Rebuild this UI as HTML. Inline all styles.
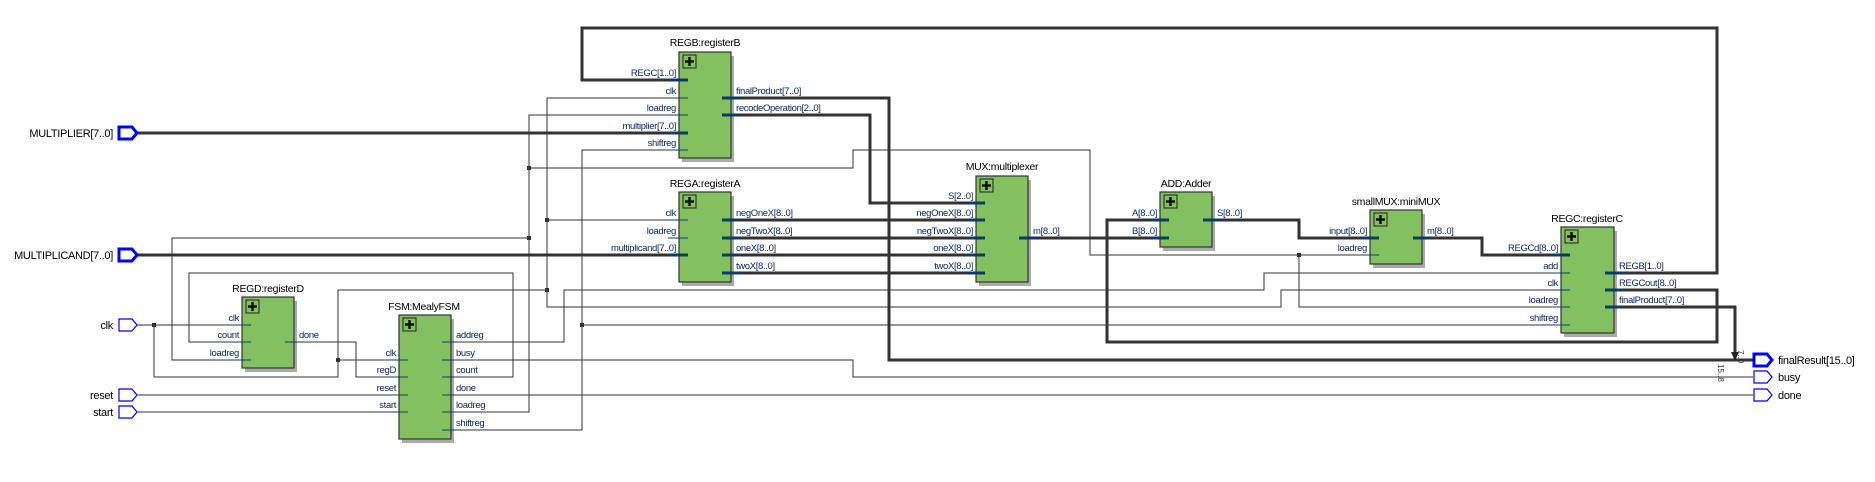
<!DOCTYPE html>
<html><head><meta charset="utf-8"><style>
html,body{margin:0;padding:0;background:#fff;}
svg{display:block;}
text{font-family:"Liberation Sans",sans-serif;}
.pl{font-size:9.5px;fill:#0a2a66;letter-spacing:-0.35px;}
.tt{font-size:10.5px;fill:#000;letter-spacing:-0.3px;}
.pn{font-size:11px;fill:#000;letter-spacing:-0.3px;}
.w{stroke:#333;stroke-width:1;fill:none;}
.b{stroke:#333;stroke-width:3;fill:none;}
.st{stroke:#0d3b66;stroke-width:1;}
.sb{stroke:#0d3b66;stroke-width:3;}
.box{fill:#83c060;stroke:#333;stroke-width:1.2;}
.sh{fill:#aaa;}
.pin{fill:#fff;stroke:#0000ff;stroke-width:1.2;}
.pinb{fill:#fff;stroke:#0000ff;stroke-width:3;}
</style></head><body>
<svg width="1875" height="482" viewBox="0 0 1875 482" xmlns="http://www.w3.org/2000/svg">
<!-- wires -->
<g>
<polyline class="b" points="679,80 582,80 582,28 1717,28 1717,273 1614,273"/>
<polyline class="b" points="730,98 889,98 889,360 1753,360"/>
<polyline class="b" points="730,115 870,115 870,203 976,203"/>
<line class="b" x1="730" y1="220" x2="976" y2="220"/>
<line class="b" x1="730" y1="238" x2="976" y2="238"/>
<line class="b" x1="730" y1="255" x2="976" y2="255"/>
<line class="b" x1="730" y1="273" x2="976" y2="273"/>
<line class="b" x1="137" y1="133" x2="679" y2="133"/>
<line class="b" x1="137" y1="255" x2="679" y2="255"/>
<line class="b" x1="1028" y1="238" x2="1160" y2="238"/>
<polyline class="b" points="1614,290 1717,290 1717,342 1107,342 1107,220 1160,220"/>
<polyline class="b" points="1212,220 1299,220 1299,238 1370,238"/>
<polyline class="b" points="1422,238 1482,238 1482,255 1561,255"/>
<polyline class="b" points="1614,307 1735,307 1735,357"/>
<!-- thin -->
<polyline class="w" points="137,325 242,325"/>
<polyline class="w" points="154,325 154,377 338,377 338,290 547,290"/>
<polyline class="w" points="338,360 399,360"/>
<polyline class="w" points="679,98 547,98 547,307 1281,307 1281,290 1561,290"/>
<line class="w" x1="547" y1="220" x2="679" y2="220"/>
<polyline class="w" points="451,342 564,342 564,290 1264,290 1264,273 1561,273"/>
<polyline class="w" points="451,412 529,412 529,115 679,115"/>
<polyline class="w" points="529,168 853,168 853,150 1090,150 1090,255 1370,255"/>
<polyline class="w" points="1299,255 1299,307 1561,307"/>
<polyline class="w" points="529,238 172,238 172,360 242,360"/>
<polyline class="w" points="451,430 582,430 582,150 679,150"/>
<line class="w" x1="582" y1="325" x2="1561" y2="325"/>
<polyline class="w" points="451,377 513,377 513,273 189,273 189,342 242,342"/>
<polyline class="w" points="294,342 356,342 356,377 399,377"/>
<polyline class="w" points="451,360 853,360 853,377 1753,377"/>
<line class="w" x1="451" y1="395" x2="1753" y2="395"/>
<line class="w" x1="137" y1="395" x2="399" y2="395"/>
<line class="w" x1="137" y1="412" x2="399" y2="412"/>
<!-- dots -->
<g fill="#333">
<rect x="152" y="323" width="4" height="4"/>
<rect x="336" y="358" width="4" height="4"/>
<rect x="545" y="288" width="4" height="4"/>
<rect x="545" y="218" width="4" height="4"/>
<rect x="527" y="166" width="4" height="4"/>
<rect x="527" y="236" width="4" height="4"/>
<rect x="580" y="323" width="4" height="4"/>
<rect x="1297" y="253" width="4" height="4"/>
</g>
<polygon points="1731,352 1739,352 1735,361" fill="#222"/>
<text x="1738" y="350" font-size="8" fill="#333" transform="rotate(90 1738 350)">7..0</text>
<text x="1718" y="364" font-size="8" fill="#333" transform="rotate(90 1718 364)">15..8</text>
</g>

<!-- blocks -->
<g>
<!-- REGB -->
<text class="tt" x="705" y="46" text-anchor="middle">REGB:registerB</text>
<rect class="sh" x="682" y="56" width="52" height="106"/>
<rect class="box" x="679" y="52" width="52" height="106"/>
<rect x="683" y="55" width="13" height="13" fill="#83c060" stroke="#222"/><path d="M689.5,57v9M685,61.5h9" stroke="#111" stroke-width="2.5"/>
<line class="sb" x1="668" y1="80" x2="688" y2="80"/><line class="st" x1="668" y1="98" x2="688" y2="98"/><line class="st" x1="668" y1="115" x2="688" y2="115"/><line class="sb" x1="668" y1="133" x2="688" y2="133"/><line class="st" x1="668" y1="150" x2="688" y2="150"/>
<line class="sb" x1="722" y1="98" x2="740" y2="98"/><line class="sb" x1="722" y1="115" x2="740" y2="115"/>
<g class="pl" text-anchor="end"><text x="676" y="76">REGC[1..0]</text><text x="676" y="94">clk</text><text x="676" y="111">loadreg</text><text x="676" y="129">multiplier[7..0]</text><text x="676" y="146">shiftreg</text></g>
<g class="pl"><text x="736" y="94">finalProduct[7..0]</text><text x="736" y="111">recodeOperation[2..0]</text></g>

<!-- REGA -->
<text class="tt" x="705" y="187" text-anchor="middle">REGA:registerA</text>
<rect class="sh" x="682" y="196" width="52" height="90"/>
<rect class="box" x="679" y="192" width="52" height="90"/>
<rect x="683" y="195" width="13" height="13" fill="#83c060" stroke="#222"/><path d="M689.5,197v9M685,201.5h9" stroke="#111" stroke-width="2.5"/>
<line class="st" x1="668" y1="220" x2="688" y2="220"/><line class="st" x1="668" y1="238" x2="688" y2="238"/><line class="sb" x1="668" y1="255" x2="688" y2="255"/>
<line class="sb" x1="722" y1="220" x2="740" y2="220"/><line class="sb" x1="722" y1="238" x2="740" y2="238"/><line class="sb" x1="722" y1="255" x2="740" y2="255"/><line class="sb" x1="722" y1="273" x2="740" y2="273"/>
<g class="pl" text-anchor="end"><text x="676" y="216">clk</text><text x="676" y="234">loadreg</text><text x="676" y="251">multiplicand[7..0]</text></g>
<g class="pl"><text x="736" y="216">negOneX[8..0]</text><text x="736" y="234">negTwoX[8..0]</text><text x="736" y="251">oneX[8..0]</text><text x="736" y="269">twoX[8..0]</text></g>

<!-- REGD -->
<text class="tt" x="268" y="292" text-anchor="middle">REGD:registerD</text>
<rect class="sh" x="245" y="301" width="52" height="71"/>
<rect class="box" x="242" y="297" width="52" height="71"/>
<rect x="246" y="300" width="13" height="13" fill="#83c060" stroke="#222"/><path d="M252.5,302v9M248,306.5h9" stroke="#111" stroke-width="2.5"/>
<line class="st" x1="232" y1="325" x2="251" y2="325"/><line class="st" x1="232" y1="342" x2="251" y2="342"/><line class="st" x1="232" y1="360" x2="251" y2="360"/>
<line class="st" x1="285" y1="342" x2="303" y2="342"/>
<g class="pl" text-anchor="end"><text x="239" y="321">clk</text><text x="239" y="338">count</text><text x="239" y="356">loadreg</text></g>
<g class="pl"><text x="299" y="338">done</text></g>

<!-- FSM -->
<text class="tt" x="424" y="310" text-anchor="middle">FSM:MealyFSM</text>
<rect class="sh" x="402" y="319" width="52" height="124"/>
<rect class="box" x="399" y="315" width="52" height="124"/>
<rect x="403" y="318" width="13" height="13" fill="#83c060" stroke="#222"/><path d="M409.5,320v9M405,324.5h9" stroke="#111" stroke-width="2.5"/>
<line class="st" x1="389" y1="360" x2="408" y2="360"/><line class="st" x1="389" y1="377" x2="408" y2="377"/><line class="st" x1="389" y1="395" x2="408" y2="395"/><line class="st" x1="389" y1="412" x2="408" y2="412"/>
<line class="st" x1="442" y1="342" x2="460" y2="342"/><line class="st" x1="442" y1="360" x2="460" y2="360"/><line class="st" x1="442" y1="377" x2="460" y2="377"/><line class="st" x1="442" y1="395" x2="460" y2="395"/><line class="st" x1="442" y1="412" x2="460" y2="412"/><line class="st" x1="442" y1="430" x2="460" y2="430"/>
<g class="pl" text-anchor="end"><text x="396" y="356">clk</text><text x="396" y="373">regD</text><text x="396" y="391">reset</text><text x="396" y="408">start</text></g>
<g class="pl"><text x="456" y="338">addreg</text><text x="456" y="356">busy</text><text x="456" y="373">count</text><text x="456" y="391">done</text><text x="456" y="408">loadreg</text><text x="456" y="426">shiftreg</text></g>

<!-- MUX -->
<text class="tt" x="1002" y="170" text-anchor="middle">MUX:multiplexer</text>
<rect class="sh" x="979" y="180" width="52" height="106"/>
<rect class="box" x="976" y="176" width="52" height="106"/>
<rect x="980" y="179" width="13" height="13" fill="#83c060" stroke="#222"/><path d="M986.5,181v9M982,185.5h9" stroke="#111" stroke-width="2.5"/>
<line class="sb" x1="966" y1="203" x2="985" y2="203"/><line class="sb" x1="966" y1="220" x2="985" y2="220"/><line class="sb" x1="966" y1="238" x2="985" y2="238"/><line class="sb" x1="966" y1="255" x2="985" y2="255"/><line class="sb" x1="966" y1="273" x2="985" y2="273"/>
<line class="sb" x1="1019" y1="238" x2="1037" y2="238"/>
<g class="pl" text-anchor="end"><text x="973" y="199">S[2..0]</text><text x="973" y="216">negOneX[8..0]</text><text x="973" y="234">negTwoX[8..0]</text><text x="973" y="251">oneX[8..0]</text><text x="973" y="269">twoX[8..0]</text></g>
<g class="pl"><text x="1033" y="234">m[8..0]</text></g>

<!-- ADD -->
<text class="tt" x="1186" y="187" text-anchor="middle">ADD:Adder</text>
<rect class="sh" x="1163" y="196" width="52" height="55"/>
<rect class="box" x="1160" y="192" width="52" height="55"/>
<rect x="1164" y="195" width="13" height="13" fill="#83c060" stroke="#222"/><path d="M1170.5,197v9M1166,201.5h9" stroke="#111" stroke-width="2.5"/>
<line class="sb" x1="1150" y1="220" x2="1169" y2="220"/><line class="sb" x1="1150" y1="238" x2="1169" y2="238"/>
<line class="sb" x1="1203" y1="220" x2="1221" y2="220"/>
<g class="pl" text-anchor="end"><text x="1157" y="216">A[8..0]</text><text x="1157" y="234">B[8..0]</text></g>
<g class="pl"><text x="1217" y="216">S[8..0]</text></g>

<!-- miniMUX -->
<text class="tt" x="1396" y="205" text-anchor="middle">smallMUX:miniMUX</text>
<rect class="sh" x="1373" y="214" width="52" height="54"/>
<rect class="box" x="1370" y="210" width="52" height="54"/>
<rect x="1374" y="213" width="13" height="13" fill="#83c060" stroke="#222"/><path d="M1380.5,215v9M1376,219.5h9" stroke="#111" stroke-width="2.5"/>
<line class="sb" x1="1360" y1="238" x2="1379" y2="238"/><line class="st" x1="1360" y1="255" x2="1379" y2="255"/>
<line class="sb" x1="1413" y1="238" x2="1431" y2="238"/>
<g class="pl" text-anchor="end"><text x="1367" y="234">input[8..0]</text><text x="1367" y="251">loadreg</text></g>
<g class="pl"><text x="1427" y="234">m[8..0]</text></g>

<!-- REGC -->
<text class="tt" x="1587" y="222" text-anchor="middle">REGC:registerC</text>
<rect class="sh" x="1564" y="231" width="53" height="106"/>
<rect class="box" x="1561" y="227" width="53" height="106"/>
<rect x="1565" y="230" width="13" height="13" fill="#83c060" stroke="#222"/><path d="M1571.5,232v9M1567,236.5h9" stroke="#111" stroke-width="2.5"/>
<line class="sb" x1="1551" y1="255" x2="1570" y2="255"/><line class="st" x1="1551" y1="273" x2="1570" y2="273"/><line class="st" x1="1551" y1="290" x2="1570" y2="290"/><line class="st" x1="1551" y1="307" x2="1570" y2="307"/><line class="st" x1="1551" y1="325" x2="1570" y2="325"/>
<line class="sb" x1="1605" y1="273" x2="1623" y2="273"/><line class="sb" x1="1605" y1="290" x2="1623" y2="290"/><line class="sb" x1="1605" y1="307" x2="1623" y2="307"/>
<g class="pl" text-anchor="end"><text x="1558" y="251">REGCd[8..0]</text><text x="1558" y="269">add</text><text x="1558" y="286">clk</text><text x="1558" y="303">loadreg</text><text x="1558" y="321">shiftreg</text></g>
<g class="pl"><text x="1619" y="269">REGB[1..0]</text><text x="1619" y="286">REGCout[8..0]</text><text x="1619" y="303">finalProduct[7..0]</text></g>
</g>

<!-- pins -->
<g>
<polygon class="pinb" points="119,127 132,127 137,133 132,139 119,139"/>
<text class="pn" x="113" y="137" text-anchor="end">MULTIPLIER[7..0]</text>
<polygon class="pinb" points="119,249 132,249 137,255 132,261 119,261"/>
<text class="pn" x="113" y="259" text-anchor="end">MULTIPLICAND[7..0]</text>
<polygon class="pin" points="119,319 132,319 137,325 132,331 119,331"/>
<text class="pn" x="113" y="329" text-anchor="end">clk</text>
<polygon class="pin" points="119,389 132,389 137,395 132,401 119,401"/>
<text class="pn" x="113" y="399" text-anchor="end">reset</text>
<polygon class="pin" points="119,406 132,406 137,412 132,418 119,418"/>
<text class="pn" x="113" y="416" text-anchor="end">start</text>
<polygon class="pinb" points="1754,354 1767,354 1772,360 1767,366 1754,366"/>
<text class="pn" x="1778" y="364">finalResult[15..0]</text>
<polygon class="pin" points="1754,371 1767,371 1772,377 1767,383 1754,383"/>
<text class="pn" x="1778" y="381">busy</text>
<polygon class="pin" points="1754,389 1767,389 1772,395 1767,401 1754,401"/>
<text class="pn" x="1778" y="399">done</text>
</g>
</svg>
</body></html>
